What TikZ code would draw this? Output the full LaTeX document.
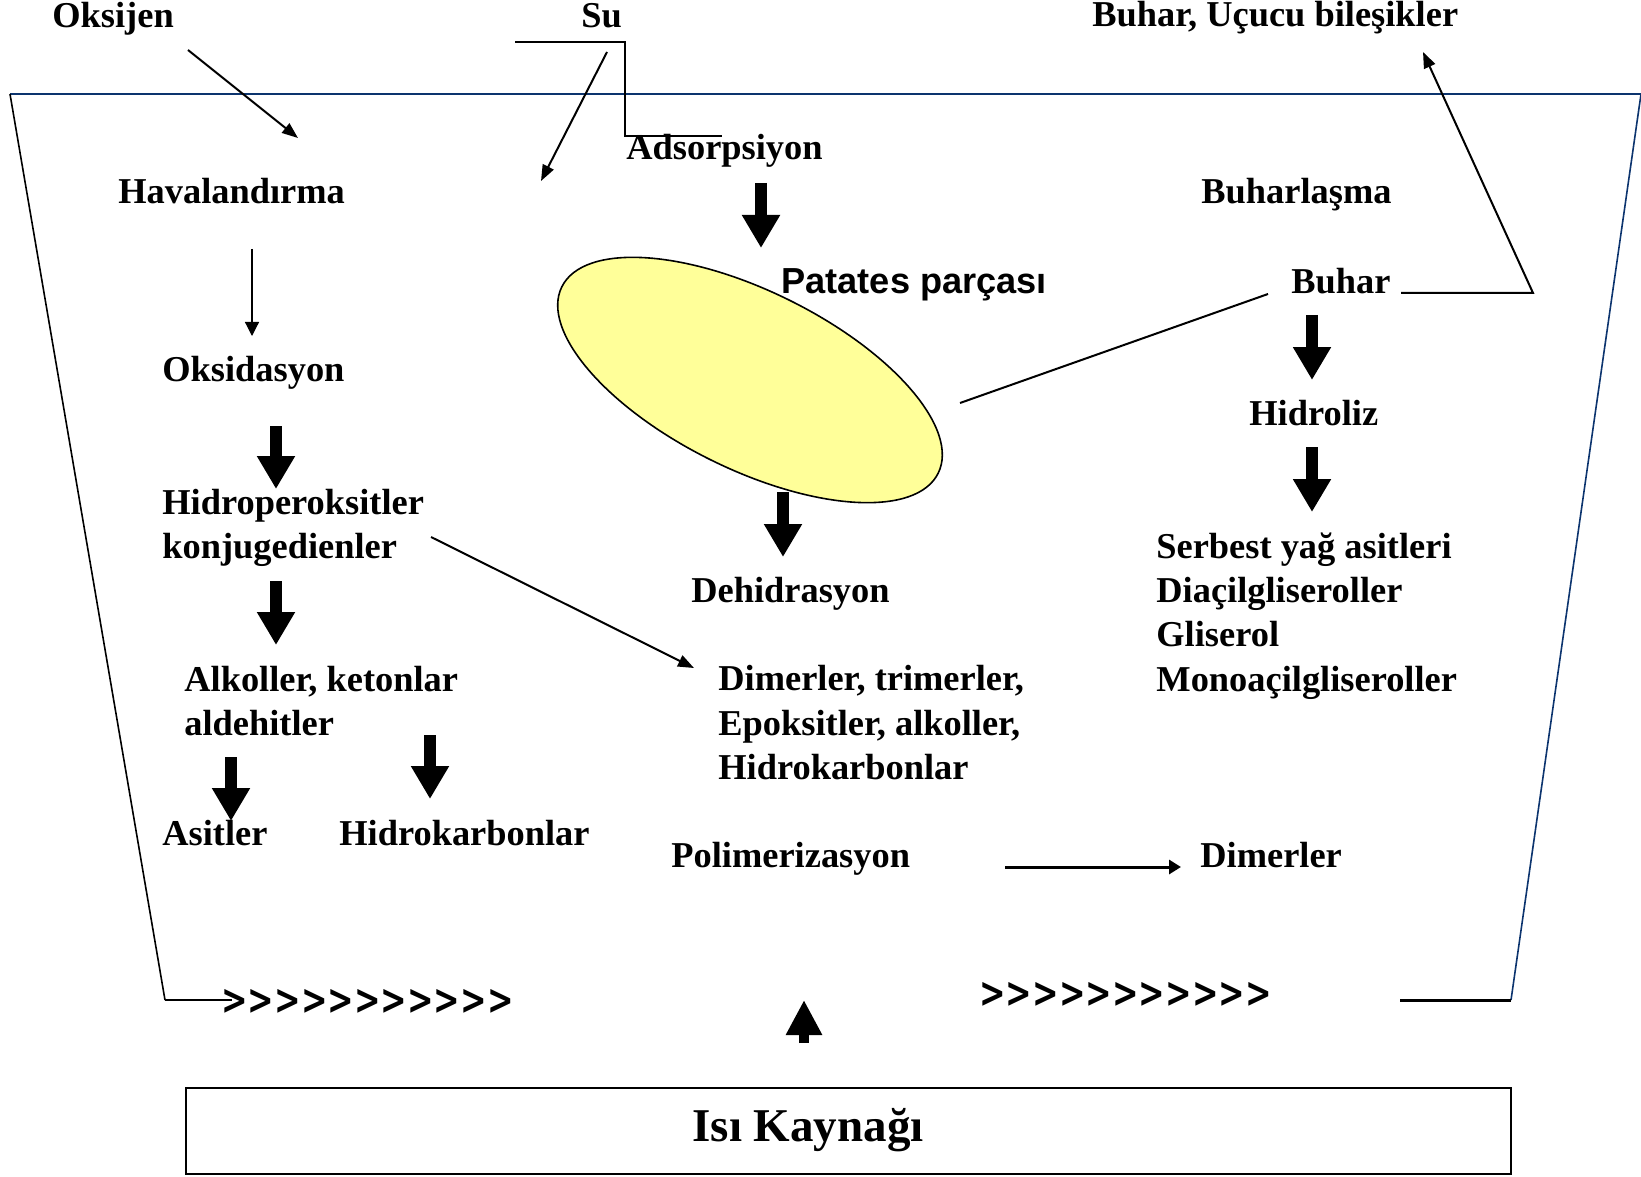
\documentclass[tikz,border=0pt]{standalone}
\usepackage{fontspec}
\setmainfont{Liberation Serif}
\newfontfamily\labelsans{Liberation Sans}
\newfontfamily\chevfont{DejaVu Sans}[FakeStretch=0.755]
\usetikzlibrary{arrows.meta,shapes.geometric}
\definecolor{vessel}{RGB}{12,52,110}
\definecolor{potato}{RGB}{255,255,153}
\begin{document}
\begin{tikzpicture}[x=0.5pt,y=-0.5pt,
  lbl/.style={inner sep=0pt, anchor=base west, font=\fontsize{18.2}{21.6}\selectfont\bfseries},
  chevrons/.style={inner sep=0pt, anchor=west, font=\chevfont\fontsize{21}{24}\selectfont\bfseries},
  thinarrow/.style={line width=1pt, -{Triangle[length=8pt,width=6pt]}},
  hairarrow/.style={line width=0.6pt, -{Triangle[length=7pt,width=7pt]}},
  bigarrow/.style={line width=6pt, -{Triangle[length=16.5pt,width=18pt]}},
  plainline/.style={line width=1pt},
]
\useasboundingbox (0,0) rectangle (1641,1176);

% ---- the pan ----
\coordinate (rimL) at (10,94);
\coordinate (rimR) at (1641,94);
\coordinate (baseL) at (165,1000);
\coordinate (baseLend) at (232,1000);
\coordinate (baseR) at (1511,1000);
\coordinate (baseRstart) at (1400,1000);
\draw[vessel, line width=1pt] (rimL) -- (rimR);
\draw[vessel, line width=0.8pt] (rimR) -- (baseR);
\draw[line width=0.8pt] (rimL) -- (baseL);
\draw[line width=1pt] (baseL) -- (baseLend);
\draw[line width=1.5pt] (baseRstart) -- (baseR);
\node[chevrons] (oilL) at (221,1002) {>>>>>>>>>>>};
\node[chevrons] (oilR) at (979,995) {>>>>>>>>>>>};

% ---- heat source ----
\node[draw, line width=1pt, minimum width=662.5pt, minimum height=43pt, inner sep=0pt]
  (heatbox) at (848.5,1131) {};
\node[inner sep=0pt, anchor=base, font=\fontsize{23.5}{28}\selectfont\bfseries]
  (isi) at (808,1141) {Isı Kaynağı};
\coordinate (heatFrom) at (804,1043);
\coordinate (heatTo) at (804,1000);
\draw[line width=5pt, -{Triangle[length=17.5pt,width=17pt]}] (heatFrom) -- (heatTo);

% ---- potato slice ----
\node[ellipse, draw, line width=0.8pt, fill=potato, minimum width=210pt,
  minimum height=89pt, inner sep=0pt, rotate=-26.35] (parca) at (750,380) {};
\node[inner sep=0pt, anchor=base west, font=\labelsans\fontsize{18.1}{21}\selectfont\bfseries]
  (patates) at (781,293) {Patates parçası};

% ---- labels ----
\node[lbl] (oksijen) at (52,28) {Oksijen};
\node[lbl] (su) at (581,28) {Su};
\node[lbl] (ucucu) at (1092,27) {Buhar, Uçucu bileşikler};
\node[lbl] (havalandirma) at (118,204) {Havalandırma};
\node[lbl] (adsorpsiyon) at (626,160) {Adsorpsiyon};
\node[lbl] (buharlasma) at (1201,204) {Buharlaşma};
\node[lbl] (buhar) at (1291,293) {Buhar};
\node[lbl] (oksidasyon) at (162,381) {Oksidasyon};
\node[lbl] (hidroliz) at (1249,425) {Hidroliz};
\node[lbl] (hidroper) at (162,514) {Hidroperoksitler};
\node[lbl] (konj) at (162,558) {konjugedienler};
\node[lbl] (serbest) at (1156,558) {Serbest yağ asitleri};
\node[lbl] (dehidrasyon) at (691,602) {Dehidrasyon};
\node[lbl] (diacil) at (1156,602) {Diaçilgliseroller};
\node[lbl] (gliserol) at (1156,646) {Gliserol};
\node[lbl] (alkoller) at (184,691) {Alkoller, ketonlar};
\node[lbl] (dimerTri) at (718,690) {Dimerler, trimerler,};
\node[lbl] (monoacil) at (1156,691) {Monoaçilgliseroller};
\node[lbl] (aldehitler) at (184,735) {aldehitler};
\node[lbl] (epoksit) at (718,735) {Epoksitler, alkoller,};
\node[lbl] (hkarbonR) at (718,779) {Hidrokarbonlar};
\node[lbl] (asitler) at (162,845) {Asitler};
\node[lbl] (hkarbonL) at (339,845) {Hidrokarbonlar};
\node[lbl] (polimer) at (671,867) {Polimerizasyon};
\node[lbl] (dimerler) at (1200,867) {Dimerler};

% ---- thin connectors ----
\coordinate (oxFrom) at (188,50);
\coordinate (oxTo) at (298,138);
\draw[thinarrow] (oxFrom) -- (oxTo);

\coordinate (suFrom) at (607,52);
\coordinate (suTo) at (541,181);
\draw[thinarrow] (suFrom) -- (suTo);

\coordinate (suA) at (515,42);
\coordinate (suB) at (625,42);
\coordinate (suC) at (625,136);
\coordinate (suD) at (722,136);
\draw[plainline] (suA) -- (suB) -- (suC) -- (suD);

\coordinate (havFrom) at (252,249);
\coordinate (havTo) at (252,336);
\draw[hairarrow] (havFrom) -- (havTo);

\coordinate (konjFrom) at (431,537);
\coordinate (konjTo) at (694,668);
\draw[thinarrow] (konjFrom) -- (konjTo);

\coordinate (vapFrom) at (1268,294);
\coordinate (vapTo) at (960,403);
\draw[plainline] (vapFrom) -- (vapTo);

\coordinate (ventA) at (1401,293);
\coordinate (ventB) at (1533,293);
\coordinate (ventTo) at (1423,52);
\draw[thinarrow] (ventA) -- (ventB) -- (ventTo);

\coordinate (polFrom) at (1005,867);
\coordinate (polTo) at (1181,867);
\draw[line width=1.5pt, -{Triangle[length=6pt,width=7pt]}] (polFrom) -- (polTo);

% ---- thick reaction arrows ----
\coordinate (b1a) at (276,426);  \coordinate (b1b) at (276,489);
\coordinate (b2a) at (276,581);  \coordinate (b2b) at (276,645);
\coordinate (b3a) at (231,757);  \coordinate (b3b) at (231,821);
\coordinate (b4a) at (430,735);  \coordinate (b4b) at (430,799);
\coordinate (b5a) at (761,183);  \coordinate (b5b) at (761,248);
\coordinate (b6a) at (783,492);  \coordinate (b6b) at (783,557);
\coordinate (b7a) at (1312,315); \coordinate (b7b) at (1312,380);
\coordinate (b8a) at (1312,447); \coordinate (b8b) at (1312,512);
\foreach \k in {1,...,8} \draw[bigarrow] (b\k a) -- (b\k b);
\end{tikzpicture}
\end{document}
